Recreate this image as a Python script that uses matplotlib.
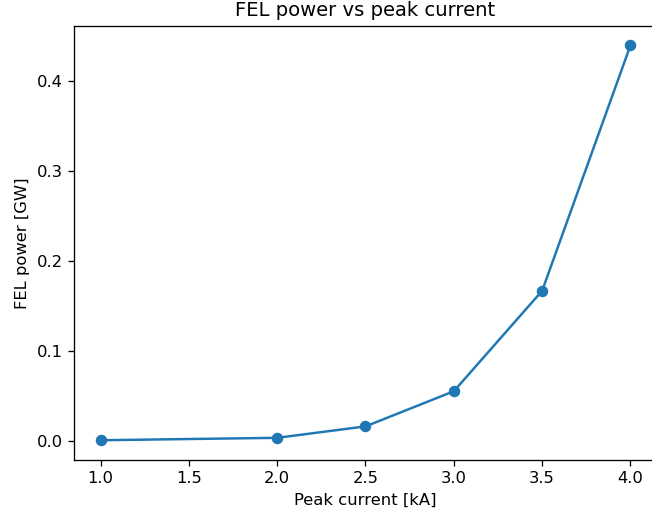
import matplotlib
matplotlib.use("Agg")
import matplotlib.pyplot as plt

peak_current = [1.0, 2.0, 2.5, 3.0, 3.5, 4.0]
fel_power = [0.0003, 0.003, 0.0157, 0.0548, 0.1665, 0.4395]

W, H = 652, 516
DPI = 118
fig = plt.figure(figsize=(W / DPI, H / DPI), dpi=DPI)
left, right, top, bottom = 74, 657, 25.5, 460
ax = fig.add_axes([left / W, 1 - bottom / H, (right - left) / W, (bottom - top) / H])
ax.plot(peak_current, fel_power, marker="o")
ax.set_title("FEL power vs peak current")
ax.set_xlabel("Peak current [kA]")
ax.set_ylabel("FEL power [GW]")
fig.savefig("out.png", dpi=DPI)
